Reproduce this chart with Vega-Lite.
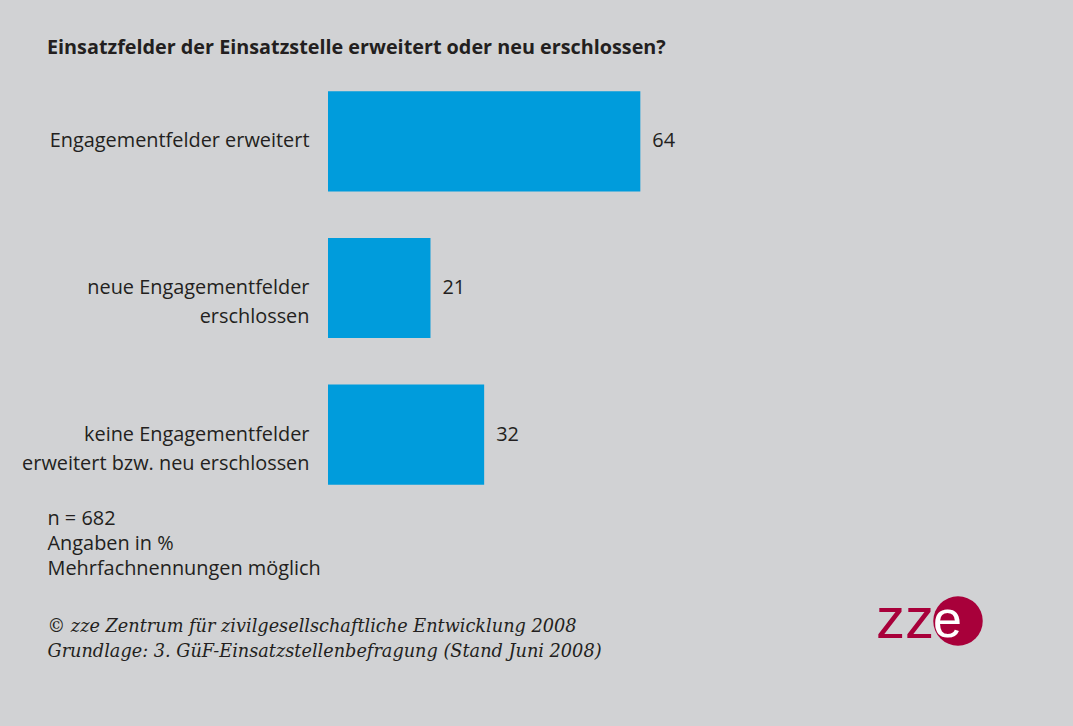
{
  "$schema": "https://vega.github.io/schema/vega-lite/v6.json",
  "width": 488,
  "height": 440,
  "autosize": {"type": "none"},
  "padding": {"left": 328, "top": 68, "right": 257, "bottom": 218},
  "background": "#d1d2d4",
  "config": {"view": {"stroke": null}, "font": "Open Sans"},
  "title": {
    "text": "Einsatzfelder der Einsatzstelle erweitert oder neu erschlossen?",
    "anchor": "start",
    "frame": "group",
    "dx": -281,
    "offset": 10,
    "font": "Open Sans",
    "fontSize": 19.8,
    "fontWeight": "bold",
    "color": "#231f20"
  },
  "data": {
    "values": [
      {"kategorie": "Engagementfelder erweitert", "anteil": 64},
      {"kategorie": "neue Engagementfelder|erschlossen", "anteil": 21},
      {"kategorie": "keine Engagementfelder|erweitert bzw. neu erschlossen", "anteil": 32}
    ]
  },
  "encoding": {
    "y": {
      "field": "kategorie",
      "type": "nominal",
      "sort": null,
      "scale": {"paddingInner": 0.317, "paddingOuter": 0.1585},
      "axis": {
        "title": ["© zze Zentrum für zivilgesellschaftliche Entwicklung 2008", "Grundlage: 3. GüF-Einsatzstellenbefragung (Stand Juni 2008)"],
        "titleAngle": 0,
        "titleAlign": "left",
        "titleBaseline": "alphabetic",
        "titleX": -281,
        "titleY": 563,
        "titleFont": "DejaVu Serif",
        "titleFontStyle": "italic",
        "titleFontWeight": "normal",
        "titleFontSize": 17.7,
        "titleLineHeight": 25,
        "titleColor": "#231f20",
        "domain": false,
        "ticks": false,
        "labelPadding": 19,
        "labelFont": "Open Sans",
        "labelFontSize": 19.9,
        "labelColor": "#231f20",
        "labelExpr": "split(datum.label, '|')",
        "labelLineHeight": 29,
        "labelLimit": 400
      }
    },
    "x": {
      "field": "anteil",
      "type": "quantitative",
      "scale": {"domain": [0, 100]},
      "axis": {
        "title": ["n = 682", "Angaben in %", "Mehrfachnennungen möglich"],
        "domain": false,
        "ticks": false,
        "labels": false,
        "grid": false,
        "titleX": -281,
        "titleY": 16,
        "titleAlign": "left",
        "titleBaseline": "alphabetic",
        "titleFont": "Open Sans",
        "titleFontSize": 19.9,
        "titleFontWeight": "normal",
        "titleLineHeight": 25,
        "titleColor": "#231f20"
      }
    }
  },
  "layer": [
    {
      "mark": {"type": "bar", "color": "#009cdc"}
    },
    {
      "mark": {"type": "text", "align": "left", "dx": 12, "fontSize": 19.9, "font": "Open Sans", "color": "#231f20"},
      "encoding": {"text": {"field": "anteil", "type": "quantitative"}}
    },
    {
      "mark": {"type": "point", "filled": true, "opacity": 0},
      "encoding": {
        "color": {
          "datum": "e",
          "scale": {"range": ["#a8003a"]},
          "legend": {
            "orient": "none",
            "legendX": 548,
            "legendY": 527,
            "title": "zz",
            "titleOrient": "left",
            "titleColor": "#a8003a",
            "titleFontSize": 58,
            "titleFont": "Liberation Sans",
            "titleFontWeight": "normal",
            "titlePadding": -2,
            "symbolType": "circle",
            "symbolSize": 2450,
            "symbolStrokeWidth": 0,
            "symbolOpacity": 1,
            "symbolFillColor": "#a8003a",
            "labelColor": "white",
            "labelFontSize": 52,
            "labelFont": "Liberation Sans",
            "labelOffset": -51
          }
        }
      }
    }
  ]
}
